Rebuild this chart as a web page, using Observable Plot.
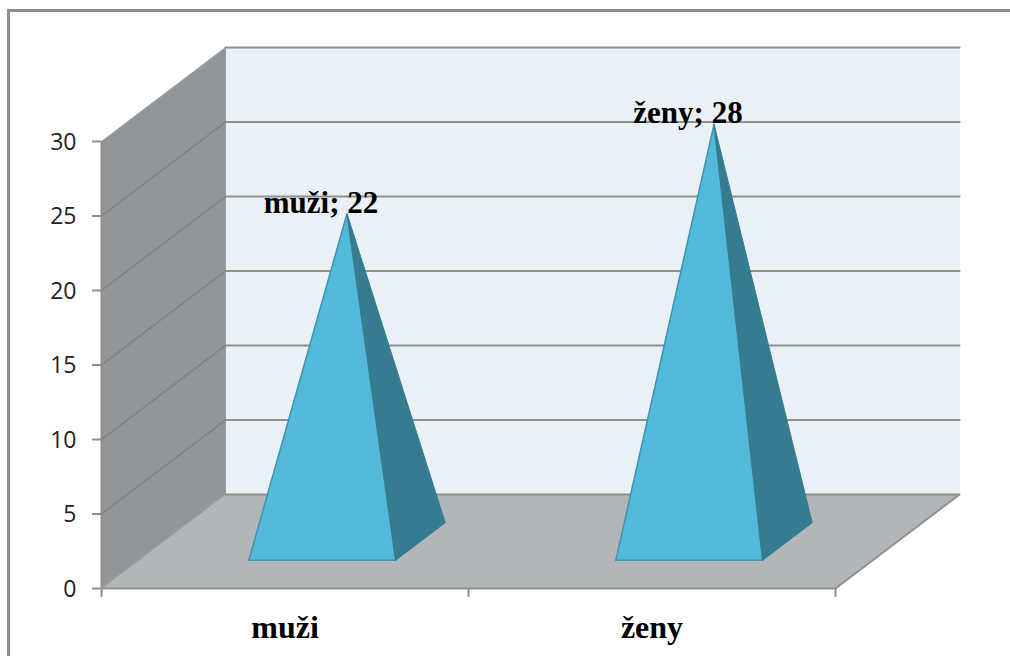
<!DOCTYPE html>
<html lang="cs">
<head>
<meta charset="utf-8">
<script src="https://cdn.jsdelivr.net/npm/d3@7"></script>
<script src="https://cdn.jsdelivr.net/npm/@observablehq/plot@0.6"></script>
<style>
  html, body { margin: 0; padding: 0; background: #fff; width: 1010px; height: 656px; overflow: hidden; }
  #frame { position: absolute; left: 7px; top: 9px; width: 1100px; height: 800px;
           border-left: 3px solid #8c8c8c; border-top: 3px solid #8c8c8c; box-sizing: border-box; }
  #chart { position: absolute; left: 0; top: 0; }
  #chart svg { background: transparent; display: block; }
</style>
</head>
<body>
<div id="frame"></div>
<div id="chart"></div>
<script>
// Respondents by sex
const categories = ["muži", "ženy"];
const values = [22, 28];
const valueTicks = [0, 5, 10, 15, 20, 25, 30];

// Oblique projection of the chart's depth axis, in x-units and y-units per unit of depth
const depthX = 0.338;
const depthY = 6.31;
const project = (x, y, depth) => ({x: x + depth * depthX, y: y + depth * depthY});

const xMax = categories.length;
const yMax = d3.max(valueTicks);

// Closed polygon given as [x, y, depth] corners
const polygon = (corners) => {
  const pts = corners.map(([x, y, d]) => project(x, y, d));
  return [...pts, pts[0]];
};

const backWall = polygon([[0, 0, 1], [xMax, 0, 1], [xMax, yMax, 1], [0, yMax, 1]]);
const sideWall = polygon([[0, 0, 0], [0, 0, 1], [0, yMax, 1], [0, yMax, 0]]);
const floor = polygon([[0, 0, 0], [xMax, 0, 0], [xMax, 0, 1], [0, 0, 1]]);

// Each pyramid stands on a square base in the middle 40% of its category and depth
const near = 0.3, far = 0.7;
const frontFaces = values.map((v, i) => polygon([[i + near, 0, near], [i + far, 0, near], [i + 0.5, v, 0.5]]));
const sideFaces = values.map((v, i) => polygon([[i + far, 0, near], [i + far, 0, far], [i + 0.5, v, 0.5]]));
const apexes = values.map((v, i) => ({...project(i + 0.5, v, 0.5), label: `${categories[i]}; ${v}`}));
const categoryLabels = categories.map((c, i) => ({x: i + 0.5, y: 0, label: c}));

const gridBack = valueTicks.filter((t) => t > 0).map((t) => [project(0, t, 1), project(xMax, t, 1)]);
const gridSide = valueTicks.filter((t) => t > 0 && t < yMax).map((t) => [project(0, t, 0), project(0, t, 1)]);

const face = (pts, fill, stroke = fill, strokeWidth = 1) =>
  Plot.line(pts, {x: "x", y: "y", fill, stroke, strokeWidth, strokeLinejoin: "round"});

const axisGrey = "#8e9090";

const chart = Plot.plot({
  width: 1010,
  height: 656,
  marginLeft: 101,
  marginRight: 175,
  marginTop: 141,
  marginBottom: 68,
  style: {background: "transparent", overflow: "visible"},
  x: {type: "linear", domain: [0, xMax], axis: null},
  y: {type: "linear", domain: [0, yMax], axis: null},
  marks: [
    face(backWall, "#e9f0f6", "#e9f0f6"),
    face(sideWall, "#929699", "#9a9ea1"),
    ...gridBack.map((g) => Plot.line(g, {x: "x", y: "y", stroke: axisGrey, strokeWidth: 2})),
    ...gridSide.map((g) => Plot.line(g, {x: "x", y: "y", stroke: "#7f8284", strokeWidth: 1.5})),
    face(floor, "#b2b6b9", "#b2b6b9"),
    Plot.line([project(0, 0, 1), project(xMax, 0, 1), project(xMax, 0, 0), project(0, 0, 0)],
      {x: "x", y: "y", stroke: axisGrey, strokeWidth: 2}),
    Plot.line([project(0, 0, 0), project(0, 0, 1)], {x: "x", y: "y", stroke: "#9a9ea1", strokeWidth: 1}),
    ...frontFaces.map((f) => face(f, "#53b9d8", "#3f93ad", 1.5)),
    ...sideFaces.map((f) => face(f, "#357c90", "#357c90")),
    Plot.text(apexes, {
      x: "x", y: "y", text: "label", dx: -26, dy: -11,
      fontFamily: "'Liberation Serif', serif", fontWeight: "bold", fontSize: 31, fill: "#000"
    }),
    // Tick marks and tick labels are separate so the labels can sit a pixel lower
    Plot.axisY({
      ticks: valueTicks, tickSize: 9, tickFormat: () => "",
      stroke: axisGrey, strokeWidth: 2, label: null
    }),
    Plot.axisY({
      ticks: valueTicks, tickSize: 0, tickPadding: 25, tickFormat: (d) => d, dy: 1,
      fill: "#222", label: null,
      fontFamily: "'Open Sans', sans-serif", fontSize: 23
    }),
    Plot.ruleX([0], {stroke: axisGrey, strokeWidth: 2}),
    Plot.axisX({
      ticks: d3.range(0, xMax + 1), tickSize: 9, tickFormat: () => "",
      stroke: axisGrey, strokeWidth: 2, label: null
    }),
    Plot.text(categoryLabels, {
      x: "x", y: "y", text: "label", dy: 39,
      fontFamily: "'Liberation Serif', serif", fontWeight: "bold", fontSize: 32, fill: "#000"
    })
  ]
});
document.getElementById("chart").append(chart);
</script>
</body>
</html>
